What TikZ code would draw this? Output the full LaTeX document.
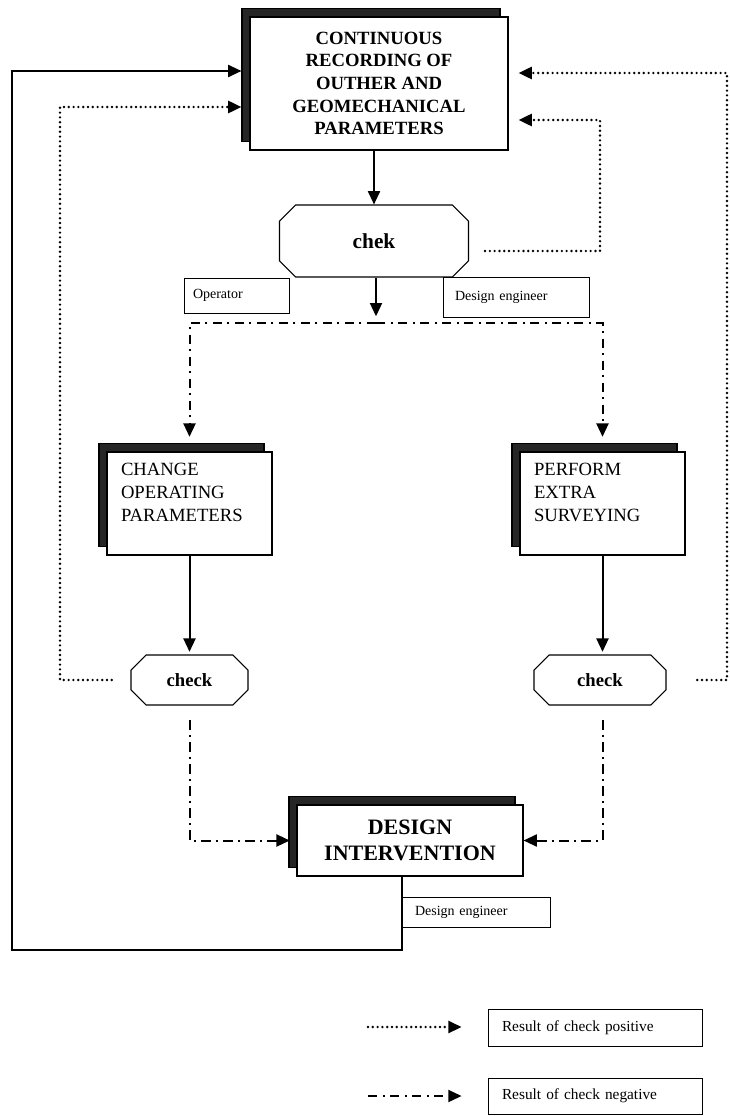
\documentclass[tikz,border=0pt]{standalone}
\usepackage{fontspec}
\setmainfont{Liberation Serif}
\usetikzlibrary{arrows.meta,shapes.misc,shadows}

\tikzset{
  shadowbox/.style={draw, fill=white, line width=0.8pt,
    copy shadow={shadow xshift=-6pt, shadow yshift=6.5pt, fill=black!85, draw=black}},
  checkbox/.style={draw, chamfered rectangle, chamfered rectangle xsep=11pt,
    line width=0.8pt, font=\fontsize{14}{16}\selectfont\bfseries},
  tagbox/.style={draw, line width=0.6pt, align=left, font=\fontsize{10.5}{12}\selectfont},
  solidarrow/.style={line width=1.5pt, -{Triangle[length=10pt,width=9pt]}},
  posarrow/.style={line width=2pt, line cap=round, dash pattern=on 0pt off 3.6pt,
    -{Triangle[length=10pt,width=9pt]}},
  negarrow/.style={line width=1.5pt, dash pattern=on 7pt off 4pt on 1.5pt off 4pt,
    -{Triangle[length=10pt,width=9pt]}},
}

\begin{document}
\begin{tikzpicture}[x=0.75pt,y=0.75pt,yscale=-1,xscale=1]
\useasboundingbox (0,0) rectangle (729,1116);

%Shape: Rectangle [recording]
\node[shadowbox, minimum width=193.5pt, minimum height=99.75pt, align=center,
  font=\fontsize{14}{17}\selectfont\bfseries] (rec) at (379,83.5)
  {CONTINUOUS\\RECORDING OF\\OUTHER AND\\GEOMECHANICAL\\PARAMETERS};

%Shape: Octagon [chek]
\node[checkbox, minimum width=141.75pt, minimum height=54pt,
  font=\fontsize{16}{18}\selectfont\bfseries] (chek) at (374,241) {chek};

% Text Node
\node[tagbox, text width=65.25pt, inner xsep=6.75pt, minimum height=26.25pt] (oper) at (236.5,295.5) {Operator};
\node[tagbox, text width=91.5pt, inner xsep=9pt, minimum height=30pt] (deng) at (516,297) {Design engineer};

%Shape: Rectangle [change / perform]
\node[shadowbox, text width=102.75pt, inner xsep=10.5pt, minimum height=77.25pt, align=left,
  font=\fontsize{14}{17}\selectfont] (chop) at (189.5,503.5) {CHANGE\\OPERATING\\PARAMETERS\\\mbox{}};
\node[shadowbox, text width=102.75pt, inner xsep=10.5pt, minimum height=77.25pt, align=left,
  font=\fontsize{14}{17}\selectfont] (extra) at (602.5,503.5) {PERFORM\\EXTRA\\SURVEYING\\\mbox{}};

%Shape: Octagon [check]
\node[checkbox, minimum width=87.75pt, minimum height=37.5pt] (chkl) at (189.5,680) {check};
\node[checkbox, minimum width=99pt, minimum height=37.5pt] (chkr) at (600,680) {check};

%Shape: Rectangle [intervention]
\node[shadowbox, minimum width=169.5pt, minimum height=53.25pt, align=center,
  font=\fontsize{16.5}{20}\selectfont\bfseries] (di) at (410,840.5) {DESIGN\\INTERVENTION};
\node[tagbox, text width=91.5pt, inner xsep=9.75pt, minimum height=22.5pt] (deng2) at (476,912) {Design engineer};

%Legend
\node[tagbox, text width=139.5pt, inner xsep=10.5pt, minimum height=27.75pt,
  font=\fontsize{11.5}{13}\selectfont] (lpos) at (595,1027.5) {Result of check positive};
\node[tagbox, text width=139.5pt, inner xsep=10.5pt, minimum height=27pt,
  font=\fontsize{11.5}{13}\selectfont] (lneg) at (595,1096) {Result of check negative};

\coordinate (split) at (376,323);
\coordinate (loopa) at (402,950);
\coordinate (loopb) at (12,71);
\coordinate (posl) at (60,107);
\coordinate (posr) at (727,73);
\coordinate (posc) at (600,251);
\coordinate (posd) at (600,120);
\coordinate (lp) at (368,1027);
\coordinate (ln) at (368,1096);

%Straight Lines
\draw[solidarrow] (chek.north |- rec.south) -- (chek.north);
\draw[solidarrow, shorten >=5pt] (split |- chek.south) -- (split);
\draw[negarrow, shorten >=11pt] (split) -| (chop.north);
\draw[negarrow, shorten >=11pt] (split) -| (extra.north);
\draw[solidarrow, shorten >=2pt] (chop.south) -- (chop.south |- chkl.north);
\draw[solidarrow, shorten >=2pt] (extra.south) -- (extra.south |- chkr.north);
\draw[negarrow, shorten <=11pt, shorten >=5pt] (chkl.south) |- (di.west);
\draw[negarrow, shorten <=11pt] (extra.south |- chkr.south) |- (di.east);
\draw[solidarrow, shorten >=6pt] (di.south -| loopa) -- (loopa) -| (loopb) -- (loopb -| rec.west);
\draw[posarrow, shorten <=14pt, shorten >=6pt] (chkl.west) -| (posl) -- (posl -| rec.west);
\draw[posarrow, shorten <=23pt, shorten >=7.5pt] (chkr.east) -| (posr) -- (posr -| rec.east);
\draw[posarrow, shorten <=12pt, shorten >=7.5pt] (chek.east |- posc) -- (posc) -- (posd) -- (posd -| rec.east);
\draw[posarrow, shorten >=19.5pt] (lp) -- (lp -| lpos.west);
\draw[negarrow, shorten >=19.5pt] (ln) -- (ln -| lneg.west);

\end{tikzpicture}
\end{document}
